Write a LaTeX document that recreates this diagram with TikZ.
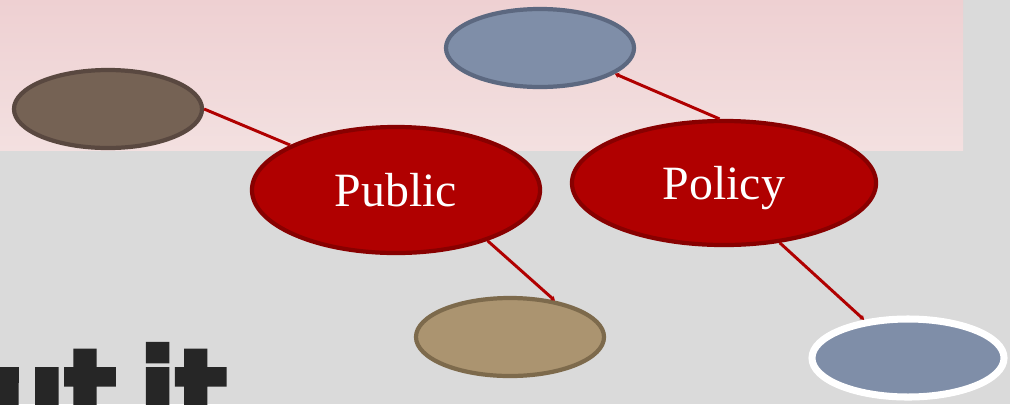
\documentclass[tikz,border=0pt]{standalone}
\usepackage{fontspec}
\setmainfont{Liberation Serif}
\newfontfamily\heavyfont[FakeBold=4]{DejaVu Sans Condensed Bold}
\usetikzlibrary{arrows.meta}
\usetikzlibrary{shapes.geometric}
\definecolor{bggray}{HTML}{DADADA}
\definecolor{bandtop}{HTML}{EED0D2}
\definecolor{bandbot}{HTML}{F3E0E0}
\definecolor{keyred}{HTML}{B00000}
\definecolor{keyredline}{HTML}{880000}
\definecolor{slate}{HTML}{7F8EA8}
\definecolor{slateline}{HTML}{5C6880}
\definecolor{umber}{HTML}{756254}
\definecolor{umberline}{HTML}{594840}
\definecolor{sand}{HTML}{AB9470}
\definecolor{sandline}{HTML}{7D6A4C}
\definecolor{inkdark}{HTML}{262626}
\tikzstyle{keyword} = [ellipse, minimum width=7.2cm, minimum height=3.15cm, fill=keyred, draw=keyredline, line width=3pt, text=white, font=\fontsize{34}{40}\selectfont, inner sep=0pt]
\tikzstyle{bubble} = [ellipse, minimum width=4.7cm, minimum height=1.95cm, line width=3pt, inner sep=0pt]
\tikzstyle{link} = [line width=2.1pt, draw=keyred]
\tikzstyle{linkarrow} = [link, -{Stealth[length=3pt,width=4pt]}]

\begin{document}
\begin{tikzpicture}[x=0.025cm, y=-0.025cm]
\useasboundingbox (0,0) rectangle (1010,404);
\clip (0,0) rectangle (1010,404);
% background
\fill[bggray] (0,0) rectangle (1010,404);
\shade[top color=bandtop, bottom color=bandbot] (0,0) rectangle (963,150);
% outer bubbles
\node (history) [bubble, fill=umber, draw=umberline] at (108,109) {};
\node (goals) [bubble, fill=slate, draw=slateline] at (540,48) {};
\node (actors) [bubble, fill=sand, draw=sandline] at (510,337) {};
\node (impact) [bubble, fill=slate, draw=white, line width=5pt, minimum width=4.8cm, minimum height=1.95cm] at (908,358) {};
% key words
\node (public) [keyword] at (396,190) {Public};
\node (policy) [keyword, minimum width=7.6cm, minimum height=3.1cm, text height=23pt, text depth=0pt] at (724,183) {Policy};
% connectors
\draw [link] (public.157) -- (history.east);
\draw [linkarrow] (policy.94) -- (goals.341);
\draw [linkarrow] (public.331) -- (actors.39);
\draw [linkarrow] (policy.313) -- (impact.139);
% cut-off title
\node (title) [anchor=base east, text=inkdark, font=\heavyfont\fontsize{84}{90}\selectfont, inner sep=0pt] at (227,434) {\spaceskip=0.2em ut it};
\end{tikzpicture}
\end{document}
